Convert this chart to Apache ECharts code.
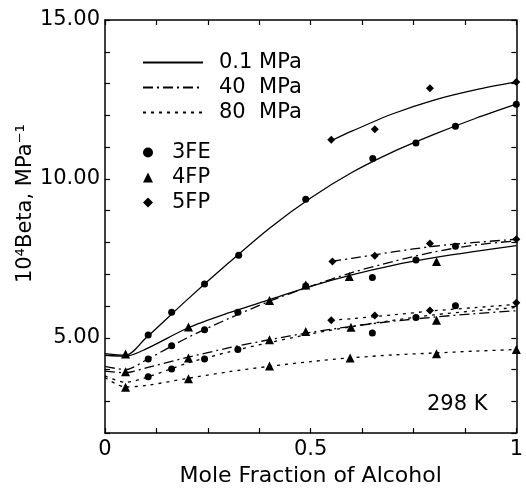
<!DOCTYPE html>
<html>
<head>
<meta charset="utf-8">
<script src="https://cdn.jsdelivr.net/npm/echarts@6/dist/echarts.min.js"></script>
<style>html,body{margin:0;padding:0;background:#fff}#chart{width:526px;height:492px}</style>
</head>
<body>
<div id="chart"></div>
<script>
// fitted curves, x = mole fraction of alcohol
const fitX = [0, 0.05, 0.1, 0.2, 0.3, 0.4, 0.5, 0.6, 0.7, 0.8, 0.9, 1]
const fitX5 = [0.55, 0.6, 0.7, 0.8, 0.9, 1]

const fit3FE_01 = [4.5, 4.45, 5.0, 6.2, 7.35, 8.45, 9.4, 10.2, 10.85, 11.4, 11.9, 12.35]
const fit4FP_01 = [4.45, 4.42, 4.65, 5.3, 5.78, 6.2, 6.62, 6.98, 7.28, 7.52, 7.72, 7.9]
const fit5FP_01 = [11.2, 11.5, 12.05, 12.48, 12.8, 13.05]

const fit3FE_40 = [4.1, 4.0, 4.3, 5.0, 5.6, 6.15, 6.62, 7.05, 7.4, 7.7, 7.92, 8.05]
const fit4FP_40 = [3.95, 3.9, 4.05, 4.38, 4.68, 4.94, 5.17, 5.36, 5.52, 5.65, 5.76, 5.85]
const fit5FP_40 = [7.4, 7.5, 7.7, 7.88, 8.0, 8.1]

const fit3FE_80 = [3.8, 3.6, 3.75, 4.2, 4.55, 4.85, 5.12, 5.35, 5.55, 5.72, 5.85, 5.95]
const fit4FP_80 = [3.75, 3.45, 3.5, 3.72, 3.93, 4.1, 4.25, 4.37, 4.46, 4.52, 4.58, 4.63]
const fit5FP_80 = [5.55, 5.6, 5.72, 5.85, 5.95, 6.05]

// measured points
const x3FE_01 = [0.105, 0.162, 0.242, 0.325, 0.488, 0.651, 0.756, 0.852, 1]
const y3FE_01 = [5.09, 5.8, 6.69, 7.6, 9.36, 10.64, 11.13, 11.66, 12.35]
const x3FE_40 = [0.105, 0.162, 0.242, 0.323, 0.488, 0.65, 0.756, 0.852]
const y3FE_40 = [4.33, 4.75, 5.25, 5.8, 6.63, 6.9, 7.45, 7.88]
const x3FE_80 = [0.105, 0.162, 0.242, 0.323, 0.65, 0.756, 0.852]
const y3FE_80 = [3.77, 4.02, 4.33, 4.63, 5.15, 5.64, 6.01]

const x4FP_01 = [0.05, 0.203, 0.4, 0.488, 0.594, 0.806]
const y4FP_01 = [4.49, 5.34, 6.17, 6.66, 6.93, 7.4]
const x4FP_40 = [0.05, 0.203, 0.4, 0.488, 0.598, 0.806]
const y4FP_40 = [3.93, 4.36, 4.94, 5.2, 5.33, 5.55]
const x4FP_80 = [0.05, 0.203, 0.4, 0.596, 0.806, 1]
const y4FP_80 = [3.44, 3.71, 4.11, 4.36, 4.5, 4.63]

const x5FP_01 = [0.55, 0.656, 0.79, 1]
const y5FP_01 = [11.23, 11.56, 12.85, 13.05]
const x5FP_40 = [0.553, 0.656, 0.79, 1]
const y5FP_40 = [7.4, 7.58, 7.97, 8.1]
const x5FP_80 = [0.55, 0.656, 0.79, 1]
const y5FP_80 = [5.55, 5.7, 5.86, 6.1]

const pressures = ['0.1 MPa', '40  MPa', '80  MPa']
const compounds = ['3FE', '4FP', '5FP']

const font = 'DejaVu Sans'
const dashes = ['solid', [10, 4, 2, 4], [3, 5]]

function pairs(xs, ys) {
  return xs.map((x, i) => [x, ys[i]])
}

function fitLine(p, xs, ys) {
  return {
    type: 'line',
    name: pressures[p],
    data: pairs(xs, ys),
    smooth: 0.3,
    symbol: 'none',
    silent: true,
    itemStyle: { color: '#000' },
    lineStyle: { color: '#000', width: 1.3, type: dashes[p] },
    z: 2
  }
}

function points(name, symbol, size, sets) {
  let data = []
  sets.forEach(s => { data = data.concat(pairs(s[0], s[1])) })
  return {
    type: 'scatter',
    name: name,
    symbol: symbol,
    symbolSize: size,
    data: data,
    itemStyle: { color: '#000', opacity: 1 },
    z: 3
  }
}

const series = [
  fitLine(0, fitX, fit3FE_01), fitLine(0, fitX, fit4FP_01), fitLine(0, fitX5, fit5FP_01),
  fitLine(1, fitX, fit3FE_40), fitLine(1, fitX, fit4FP_40), fitLine(1, fitX5, fit5FP_40),
  fitLine(2, fitX, fit3FE_80), fitLine(2, fitX, fit4FP_80), fitLine(2, fitX5, fit5FP_80),
  points('3FE', 'circle', 7, [[x3FE_01, y3FE_01], [x3FE_40, y3FE_40], [x3FE_80, y3FE_80]]),
  points('4FP', 'triangle', 9, [[x4FP_01, y4FP_01], [x4FP_40, y4FP_40], [x4FP_80, y4FP_80]]),
  points('5FP', 'diamond', 8, [[x5FP_01, y5FP_01], [x5FP_40, y5FP_40], [x5FP_80, y5FP_80]])
]

const axisLine = { onZero: false, lineStyle: { color: '#000', width: 1.5 } }
const tick = { inside: true, length: 5, lineStyle: { color: '#000', width: 1.2 } }

let option = {
  animation: false,
  backgroundColor: '#fff',
  grid: { left: 105, right: 3, top: 20, bottom: 49 },
  legend: [{
    data: pressures,
    orient: 'vertical',
    left: 137,
    top: 47,
    itemWidth: 60,
    itemHeight: 10,
    itemGap: 4,
    selectedMode: false,
    itemStyle: { opacity: 0 },
    textStyle: { fontFamily: font, fontSize: 21, color: '#000', padding: [0, 0, 0, 11] }
  }, {
    data: compounds,
    orient: 'vertical',
    left: 138,
    top: 137,
    itemWidth: 10,
    itemHeight: 10,
    itemGap: 4,
    selectedMode: false,
    textStyle: { fontFamily: font, fontSize: 21, color: '#000', padding: [0, 0, 0, 14] }
  }],
  xAxis: [{
    type: 'value', min: 0, max: 1, interval: 0.125, position: 'bottom',
    axisLine: axisLine, axisTick: tick, splitLine: { show: false },
    axisLabel: {
      margin: 6, color: '#000', fontFamily: font, fontSize: 21,
      formatter: v => (v === 0 ? '0' : v === 0.5 ? '0.5' : v === 1 ? '1' : '')
    },
    name: 'Mole Fraction of Alcohol', nameLocation: 'middle', nameGap: 18,
    nameTextStyle: { color: '#000', fontFamily: font, fontSize: 22 }
  }, {
    type: 'value', min: 0, max: 1, interval: 0.125, position: 'top',
    axisLine: axisLine, axisTick: tick, splitLine: { show: false }, axisLabel: { show: false }
  }],
  yAxis: [{
    type: 'value', min: 2, max: 15, interval: 1, position: 'left',
    axisLine: axisLine, axisTick: tick, splitLine: { show: false },
    axisLabel: {
      margin: 5, color: '#000', fontFamily: font, fontSize: 21,
      formatter: v => (v % 5 === 0 ? v.toFixed(2) : '')
    },
    name: '10⁴Beta, MPa⁻¹', nameLocation: 'middle', nameGap: 69, nameMoveOverlap: false,
    nameTextStyle: { color: '#000', fontFamily: font, fontSize: 21, padding: [0, 0, 0, 46] }
  }, {
    type: 'value', min: 2, max: 15, interval: 1, position: 'right',
    axisLine: axisLine, axisTick: tick, splitLine: { show: false }, axisLabel: { show: false }
  }],
  graphic: [{
    type: 'text', left: 427, top: 394,
    style: { text: '298 K', fill: '#000', font: '21px "DejaVu Sans"' }
  }],
  series: series
}

let chart = echarts.init(document.getElementById('chart'))
chart.setOption(option)
</script>
</body>
</html>
